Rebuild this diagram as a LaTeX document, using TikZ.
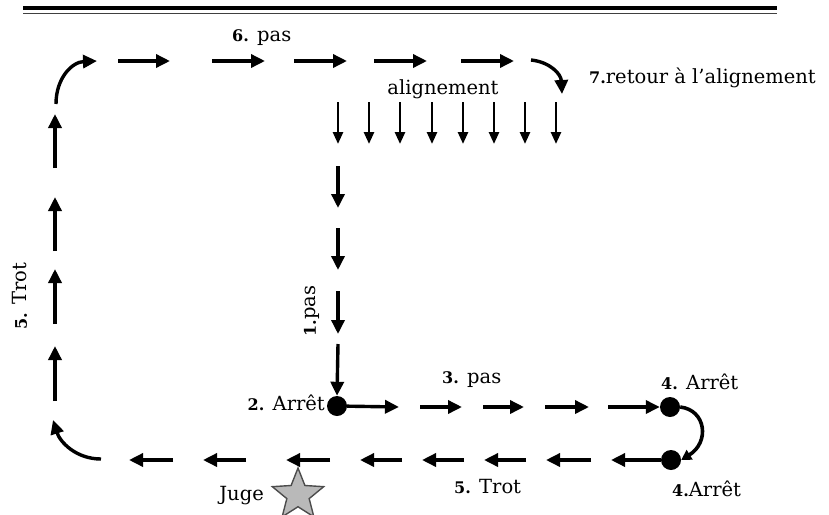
\documentclass[tikz,border=0pt]{standalone}
\usepackage{fontspec}
\setmainfont{DejaVu Serif}
\usetikzlibrary{arrows.meta,shapes.geometric,positioning}
\newcommand{\num}[1]{{\fontsize{16}{18}\selectfont\bfseries #1}}
\tikzset{
    fleche/.style={black, line width=3.4pt, -{Triangle[length=14pt,width=13pt]}},
    flechette/.style={black, line width=2.6pt, -{Triangle[length=12pt,width=10pt]}},
    arret/.style={circle, fill=black, minimum size=20pt, inner sep=0pt},
    etiquette/.style={inner sep=0pt}
}
\newcommand{\Parcours}{
    % pas, en haut
    \draw[fleche] (118,61) -- (170,61);
    \draw[fleche] (212,61) -- (265,61);
    \draw[fleche] (294,61) -- (347,61);
    \draw[fleche] (374,61) -- (427,61);
    \draw[fleche] (461,61) -- (514,61);
    \draw[fleche] (56,104) .. controls (56,78) and (72,62) .. (97,61);
    \draw[fleche] (531,60) .. controls (550,62) and (561,74) .. (562,94);
    % alignement
    \draw[flechette] (338,102) -- (338,144);
    \draw[flechette] (369,102) -- (369,144);
    \draw[flechette] (400,102) -- (400,144);
    \draw[flechette] (432,102) -- (432,144);
    \draw[flechette] (463,102) -- (463,144);
    \draw[flechette] (494,102) -- (494,144);
    \draw[flechette] (525,102) -- (525,144);
    \draw[flechette] (556,102) -- (556,144);
    % descente
    \draw[fleche] (338,166) -- (338,208);
    \draw[fleche] (338,228) -- (338,270);
    \draw[fleche] (338,291) -- (338,334);
    % pas, au milieu
    \draw[fleche] (420,407) -- (462,407);
    \draw[fleche] (483,407) -- (524,407);
    \draw[fleche] (545,407) -- (589,407);
    % trot, en bas
    \draw[fleche] (591,460) -- (546,460);
    \draw[fleche] (526,460) -- (484,460);
    \draw[fleche] (464,460) -- (422,460);
    \draw[fleche] (402,460) -- (360,460);
    \draw[fleche] (330,460) -- (286,460);
    \draw[fleche] (246,460) -- (203,460);
    \draw[fleche] (173,460) -- (129,460);
    \draw[fleche] (101,459) .. controls (76,459) and (60,442) .. (53,420);
    % trot, a gauche
    \draw[fleche] (55,401) -- (55,346);
    \draw[fleche] (55,324) -- (55,269);
    \draw[fleche] (55,251) -- (55,197);
    \draw[fleche] (55,168) -- (55,114);
}

\begin{document}
\begin{tikzpicture}[x=1pt, y=-1pt, font=\fontsize{19.5}{22}\selectfont]
    \useasboundingbox (0,0) rectangle (829,514);
    \draw[line width=3.4pt] (23,8) -- (777,8);
    \draw[line width=1.6pt, black!75] (23,13.5) -- (777,13.5);
    \node[arret] (arret2) at (337,406) {};
    \node[arret] (arret4a) at (670,407) {};
    \node[arret] (arret4b) at (671,460) {};
    \node[star, star points=5, star point ratio=2.3, minimum size=54pt, inner sep=0pt,
          fill=gray!55, draw=gray!60!black, line width=1.4pt] (juge) at (298,495) {};
    \coordinate (haut) at (338,344);
    \coordinate (droite) at (399,407);
    \coordinate (gauche) at (611,460);
    \Parcours
    \draw[fleche] (haut) -- (arret2.north);
    \draw[fleche] (arret2) -- (droite);
    \draw[fleche] (608,407) -- (arret4a.west);
    \draw[fleche] (arret4b.west) -- (gauche);
    \draw[black, line width=3.6pt, -{Triangle[length=10pt,width=11pt]}]
        (arret4a.east) .. controls (706,410) and (710,442) .. (arret4b.east);
    % textes
    \node[etiquette, anchor=west] (t6) at (232,38) {\num{6.} pas};
    \node[etiquette] (talign) at (443,89) {alignement};
    \node[etiquette, anchor=west] (t7) at (589,78) {\num{7.}retour à l'alignement};
    \node[etiquette, rotate=90] (t1) at (312,311) {\num{1.}pas};
    \node[etiquette, rotate=90] (t5a) at (20,296) {\num{5.} Trot};
    \node[etiquette, anchor=east] (t2) at (325,403) {\num{2.} Arrêt};
    \node[etiquette, anchor=west] (t3) at (442,380) {\num{3.} pas};
    \node[etiquette, anchor=west] (t4a) at (661,382) {\num{4.} Arrêt};
    \node[etiquette, anchor=west] (t4b) at (672,489) {\num{4.}Arrêt};
    \node[etiquette, anchor=west] (t5b) at (454,487) {\num{5.} Trot};
    \node[etiquette, anchor=east] (tjuge) at (264,496) {Juge};
\end{tikzpicture}
\end{document}
